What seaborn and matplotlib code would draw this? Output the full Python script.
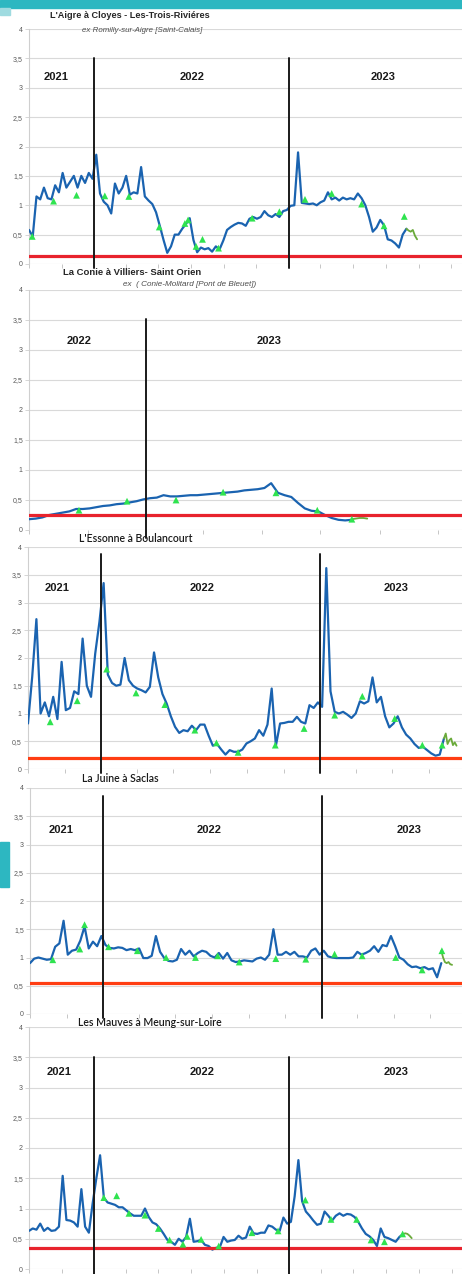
import pandas as pd
import numpy as np
import matplotlib.pyplot as plt
import matplotlib.dates as mdates
import matplotlib.ticker as mticker
from matplotlib.patches import Rectangle
import seaborn as sns

# --- L'Aigre a Cloyes (debit hebdo, m3/s)
aigre_debut = "2021-09-01"
aigre_debit = [0.58, 0.47, 1.15, 1.1, 1.3, 1.12, 1.1, 1.34, 1.22, 1.55,
               1.3, 1.4, 1.5, 1.3, 1.5, 1.38, 1.55, 1.45, 1.86, 1.2,
               1.06, 1.0, 0.86, 1.37, 1.2, 1.3, 1.5, 1.18, 1.22, 1.2,
               1.65, 1.15, 1.08, 1.02, 0.88, 0.65, 0.41, 0.19, 0.3, 0.5,
               0.5, 0.6, 0.68, 0.78, 0.41, 0.2, 0.28, 0.25, 0.27, 0.21,
               0.3, 0.25, 0.4, 0.58, 0.63, 0.67, 0.7, 0.69, 0.65, 0.77,
               0.8, 0.77, 0.8, 0.9, 0.83, 0.8, 0.85, 0.8, 0.9, 0.92,
               0.99, 1.0, 1.9, 1.04, 1.03, 1.02, 1.03, 1.0, 1.05, 1.08,
               1.22, 1.1, 1.13, 1.08, 1.13, 1.1, 1.12, 1.1, 1.2, 1.12,
               1.0, 0.8, 0.55, 0.62, 0.75, 0.66, 0.42, 0.4, 0.35, 0.28,
               0.5, 0.6]
aigre_fin = [0.6, 0.57, 0.55, 0.58, 0.48, 0.42]
aigre_mes_dates = ["2021-09-07", "2021-10-17", "2021-11-29", "2022-01-21", "2022-03-07",
                   "2022-05-03", "2022-06-20", "2022-06-26", "2022-07-11", "2022-07-23",
                   "2022-08-22", "2022-10-24", "2022-12-14", "2023-01-31", "2023-03-22",
                   "2023-05-17", "2023-06-28", "2023-08-05"]
aigre_mes = [0.47, 1.07, 1.17, 1.16, 1.15, 0.63, 0.69, 0.75, 0.30, 0.42,
             0.27, 0.78, 0.89, 1.10, 1.20, 1.02, 0.65, 0.81]
aigre_seuil = 0.14

# --- La Conie
conie_debut = "2022-09-01"
conie_debit = [0.18, 0.19, 0.21, 0.25, 0.27, 0.29, 0.31, 0.35, 0.35, 0.36,
               0.38, 0.40, 0.41, 0.43, 0.44, 0.46, 0.48, 0.51, 0.53, 0.54,
               0.58, 0.56, 0.56, 0.57, 0.58, 0.58, 0.59, 0.60, 0.61, 0.62,
               0.63, 0.64, 0.66, 0.67, 0.68, 0.70, 0.78, 0.62, 0.58, 0.55,
               0.45, 0.36, 0.32, 0.31, 0.25, 0.20, 0.17, 0.16, 0.17]
conie_fin = [0.18, 0.19, 0.2, 0.2, 0.19]
conie_mes_dates = ["2022-10-23", "2022-12-12", "2023-02-01", "2023-03-22",
                   "2023-05-16", "2023-06-28", "2023-08-03"]
conie_mes = [0.33, 0.48, 0.50, 0.63, 0.62, 0.33, 0.18]
conie_seuil = 0.25

# --- L'Essonne
essonne_debut = "2021-09-01"
essonne_debit = [0.82, 1.66, 2.7, 1.0, 1.2, 0.95, 1.3, 0.9, 1.93, 1.06,
                 1.1, 1.4, 1.35, 2.35, 1.5, 1.3, 2.08, 2.65, 3.35, 1.7,
                 1.55, 1.5, 1.52, 2.0, 1.6, 1.5, 1.45, 1.42, 1.38, 1.48,
                 2.1, 1.65, 1.35, 1.18, 0.95, 0.76, 0.65, 0.7, 0.68, 0.78,
                 0.7, 0.8, 0.8, 0.6, 0.42, 0.45, 0.35, 0.26, 0.34, 0.31,
                 0.31, 0.35, 0.46, 0.5, 0.55, 0.7, 0.6, 0.8, 1.45, 0.42,
                 0.82, 0.83, 0.85, 0.85, 0.94, 0.85, 0.82, 1.15, 1.1, 1.2,
                 1.12, 3.62, 1.4, 1.03, 1.0, 1.03, 0.98, 0.92, 1.0, 1.22,
                 1.18, 1.22, 1.65, 1.2, 1.3, 0.95, 0.75, 0.82, 0.95, 0.75,
                 0.62, 0.55, 0.45, 0.38, 0.4, 0.34, 0.28, 0.24, 0.26, 0.55]
essonne_fin = [0.55, 0.64, 0.45, 0.52, 0.55, 0.43, 0.48, 0.42]
essonne_mes_dates = ["2021-10-08", "2021-11-22", "2022-01-10", "2022-02-28", "2022-04-17",
                     "2022-06-06", "2022-07-12", "2022-08-17", "2022-10-18", "2022-12-05",
                     "2023-01-25", "2023-03-12", "2023-05-05", "2023-06-20", "2023-07-23"]
essonne_mes = [0.85, 1.23, 1.80, 1.37, 1.16, 0.70, 0.47, 0.30, 0.43, 0.73,
               0.97, 1.31, 0.91, 0.43, 0.43]
essonne_seuil = 0.2

# --- La Juine
juine_debut = "2021-09-01"
juine_debit = [0.9, 0.98, 1.0, 0.98, 0.96, 0.97, 1.19, 1.25, 1.65, 1.05,
               1.12, 1.14, 1.3, 1.55, 1.16, 1.28, 1.2, 1.38, 1.22, 1.17,
               1.16, 1.18, 1.17, 1.13, 1.15, 1.13, 1.16, 0.99, 0.99, 1.03,
               1.38, 1.1, 0.99, 0.94, 0.93, 0.96, 1.15, 1.05, 1.12, 1.02,
               1.08, 1.12, 1.1, 1.03, 1.0, 1.08, 0.98, 1.08, 0.95, 0.92,
               0.93, 0.95, 0.94, 0.93, 0.98, 1.0, 0.96, 1.05, 1.5, 1.05,
               1.05, 1.1, 1.05, 1.1, 1.02, 1.02, 1.0, 1.12, 1.16, 1.05,
               1.12, 1.02, 1.0, 0.99, 0.99, 0.99, 0.99, 1.0, 1.1, 1.05,
               1.08, 1.12, 1.2, 1.1, 1.22, 1.2, 1.38, 1.2, 1.0, 0.96,
               0.88, 0.83, 0.84, 0.81, 0.83, 0.79, 0.81, 0.65, 0.9]
juine_fin = [1.12, 1.0, 0.92, 0.9, 0.92, 0.88, 0.87]
juine_mes_dates = ["2021-10-09", "2021-11-23", "2021-12-01", "2022-01-10", "2022-02-27",
                   "2022-04-16", "2022-06-04", "2022-07-11", "2022-08-16", "2022-10-16",
                   "2022-12-05", "2023-01-22", "2023-03-09", "2023-05-04", "2023-06-17",
                   "2023-07-20"]
juine_mes = [0.96, 1.15, 1.58, 1.19, 1.12, 1.0, 1.0, 1.03, 0.92, 0.98,
             0.97, 1.06, 1.03, 1.0, 0.78, 1.12]
juine_seuil = 0.55

# --- Les Mauves
mauves_debut = "2021-09-01"
mauves_debit = [0.63, 0.67, 0.65, 0.75, 0.63, 0.68, 0.63, 0.64, 0.7, 1.54,
                0.81, 0.8, 0.77, 0.7, 1.32, 0.7, 0.6, 1.08, 1.5, 1.88,
                1.18, 1.1, 1.08, 1.06, 1.02, 1.02, 0.97, 0.92, 0.88, 0.88,
                0.88, 1.0, 0.86, 0.77, 0.74, 0.67, 0.58, 0.48, 0.45, 0.4,
                0.5, 0.45, 0.53, 0.83, 0.45, 0.46, 0.48, 0.4, 0.38, 0.32,
                0.35, 0.36, 0.53, 0.45, 0.47, 0.48, 0.55, 0.5, 0.52, 0.7,
                0.59, 0.58, 0.6, 0.6, 0.72, 0.7, 0.65, 0.63, 0.85, 0.75,
                0.78, 1.2, 1.8, 1.12, 0.95, 0.88, 0.8, 0.73, 0.75, 0.95,
                0.88, 0.8, 0.88, 0.92, 0.88, 0.91, 0.9, 0.86, 0.78, 0.67,
                0.58, 0.54, 0.48, 0.38, 0.67, 0.53, 0.51, 0.48, 0.45, 0.53,
                0.58]
mauves_fin = [0.58, 0.59, 0.58, 0.55, 0.51]
mauves_mes_dates = ["2022-01-19", "2022-02-12", "2022-03-07", "2022-04-06", "2022-05-01",
                    "2022-05-22", "2022-06-16", "2022-06-24", "2022-07-20", "2022-08-22",
                    "2022-10-23", "2022-12-11", "2023-01-31", "2023-03-20", "2023-05-07",
                    "2023-06-03", "2023-06-28", "2023-08-01"]
mauves_mes = [1.18, 1.21, 0.92, 0.89, 0.67, 0.48, 0.41, 0.54, 0.49, 0.38,
              0.60, 0.63, 1.14, 0.82, 0.82, 0.48, 0.45, 0.58]
mauves_seuil = 0.34

BLEU = "#1a63b0"
VERT = "#2fe34f"
VERT_FIN = "#6aaa3a"
ROUGE = "#e8232d"
ORANGE = "#ff3d12"
TEAL = "#2db7c1"

W, H = 462, 1274

sns.set_style("white")
plt.rcParams['font.family'] = ['Liberation Sans', 'DejaVu Sans']

fig = plt.figure(figsize=(W / 100, H / 100), dpi=100)

panneaux = [
    dict(debut=aigre_debut, debit=aigre_debit, fin=aigre_fin, pas="4D",
         mes_dates=aigre_mes_dates, mes=aigre_mes, seuil=aigre_seuil, c_seuil=ROUGE,
         box=(29, 29, 264), px_mois=16.25, traits=["2022-01-01", "2023-01-01"], trait=(3.5, -0.07),
         annees=[("2021", 56), ("2022", 192), ("2023", 383)], y_annee=77,
         titre="L'Aigre à Cloyes - Les-Trois-Riviéres", titre_xy=(50, 15), titre_fs=6.6,
         sous_titre="ex Romilly-sur-Aigre [Saint-Calais]", sous_xy=(82, 31), sous_fs=5.7,
         style="gras"),
    dict(debut=conie_debut, debit=conie_debit, fin=conie_fin, pas="4D",
         mes_dates=conie_mes_dates, mes=conie_mes, seuil=conie_seuil, c_seuil=ROUGE,
         box=(29, 290, 530), px_mois=29.25, traits=["2023-01-01"], trait=(3.52, -0.13),
         annees=[("2022", 79), ("2023", 269)], y_annee=341,
         titre="La Conie à Villiers- Saint Orien", titre_xy=(63, 272), titre_fs=6.8,
         sous_titre="ex  ( Conie-Molitard [Pont de Bleuet])", sous_xy=(123, 285), sous_fs=5.9,
         style="gras"),
    dict(debut=essonne_debut, debit=essonne_debit, fin=essonne_fin, pas="3D",
         mes_dates=essonne_mes_dates, mes=essonne_mes, seuil=essonne_seuil, c_seuil=ORANGE,
         box=(28, 547, 769), px_mois=18.27, traits=["2022-01-01", "2023-01-01"], trait=(3.88, -0.07),
         annees=[("2021", 57), ("2022", 202), ("2023", 396)], y_annee=588,
         titre="L'Essonne à Boulancourt", titre_xy=(79, 538), titre_fs=7.6, style="normal"),
    dict(debut=juine_debut, debit=juine_debit, fin=juine_fin, pas="3D",
         mes_dates=juine_mes_dates, mes=juine_mes, seuil=juine_seuil, c_seuil=ORANGE,
         box=(30, 788, 1014), px_mois=18.25, traits=["2022-01-01", "2023-01-01"], trait=(3.86, -0.07),
         annees=[("2021", 61), ("2022", 209), ("2023", 409)], y_annee=830,
         titre="La Juine à Saclas", titre_xy=(82, 779), titre_fs=7.6, style="normal"),
    dict(debut=mauves_debut, debit=mauves_debit, fin=mauves_fin, pas="4D",
         mes_dates=mauves_mes_dates, mes=mauves_mes, seuil=mauves_seuil, c_seuil=ROUGE,
         box=(29, 1027, 1269), px_mois=16.27, traits=["2022-01-01", "2023-01-01"], trait=(3.5, -0.1),
         annees=[("2021", 59), ("2022", 202), ("2023", 396)], y_annee=1072,
         titre="Les Mauves à Meung-sur-Loire", titre_xy=(78, 1023), titre_fs=7.6, style="normal"),
]

fmt_virgule = mticker.FuncFormatter(lambda v, _: f"{v:g}".replace(".", ","))

for p in panneaux:
    gauche, haut, bas = p["box"]
    ax = fig.add_axes([gauche / W, 1 - bas / H, (W - gauche) / W, (bas - haut) / H])

    dates = pd.date_range(p["debut"], periods=len(p["debit"]), freq="7D")
    dates_fin = pd.date_range(dates[-1], periods=len(p["fin"]), freq=p["pas"])

    sns.lineplot(x=dates, y=p["debit"], ax=ax, color=BLEU, linewidth=1.6, zorder=3)
    sns.lineplot(x=dates_fin, y=p["fin"], ax=ax, color=VERT_FIN, linewidth=1.3, zorder=3)
    sns.scatterplot(x=pd.to_datetime(p["mes_dates"]), y=p["mes"], ax=ax, marker="^",
                    color=VERT, s=24, edgecolor="none", zorder=5)

    ax.axhline(p["seuil"], color=p["c_seuil"], linewidth=2.3, zorder=4)
    for t in p["traits"]:
        d = pd.Timestamp(t)
        ax.plot([d, d], list(p["trait"]), color="#1a1a1a", linewidth=1.4,
                zorder=6, clip_on=False)

    debut = pd.Timestamp(p["debut"])
    jours = (W - gauche) / p["px_mois"] * 30.44
    ax.set_xlim(debut, debut + pd.Timedelta(days=jours))
    ax.set_ylim(0, 4)
    ax.set_yticks(np.arange(0, 4.01, 0.5))
    ax.yaxis.set_major_formatter(fmt_virgule)
    ax.xaxis.set_major_locator(mdates.MonthLocator(bymonth=[1, 3, 5, 7, 9, 11]))
    ax.set_xlabel("")
    ax.set_ylabel("")

    ax.yaxis.grid(True, color="#d9d9d9", linewidth=0.8)
    ax.set_axisbelow(True)
    for s in ["top", "right", "bottom"]:
        ax.spines[s].set_visible(False)
    ax.spines["left"].set_color("#cfcfcf")
    ax.spines["left"].set_linewidth(0.8)
    ax.tick_params(axis="y", left=True, length=3, width=0.6, color="#cfcfcf",
                   labelsize=5, labelcolor="#595959", pad=1.5)
    ax.tick_params(axis="x", bottom=True, length=3, width=0.6, color="#bdbdbd",
                   labelbottom=False)

    for txt, xc in p["annees"]:
        fig.text(xc / W, 1 - p["y_annee"] / H, txt, ha="center", va="center",
                 fontsize=8, fontweight="bold", color="#1a1a1a")

    tx, ty = p["titre_xy"]
    if p["style"] == "gras":
        fig.text(tx / W, 1 - ty / H, p["titre"], ha="left", va="center",
                 fontsize=p["titre_fs"], fontweight="bold", color="#262626")
        sx, sy = p["sous_xy"]
        fig.text(sx / W, 1 - sy / H, p["sous_titre"], ha="left", va="center",
                 fontsize=p["sous_fs"], fontstyle="italic", color="#4d4d4d")
    else:
        fig.text(tx / W, 1 - ty / H, p["titre"], ha="left", va="center",
                 fontsize=p["titre_fs"], fontweight="semibold", color="#1a1a1a",
                 family=["Lato", "DejaVu Sans"])

# bandeau et onglet de la diapo
fig.add_artist(Rectangle((0, 1 - 8 / H), 1, 8 / H, transform=fig.transFigure,
                         color=TEAL, zorder=10))
fig.add_artist(Rectangle((0, 1 - 15 / H), 10 / W, 7 / H, transform=fig.transFigure,
                         color="#9fdbe0", zorder=10))
fig.add_artist(Rectangle((0, 1 - 887 / H), 9 / W, 45 / H, transform=fig.transFigure,
                         color=TEAL, zorder=10))

fig.savefig("out.png", dpi=100)
